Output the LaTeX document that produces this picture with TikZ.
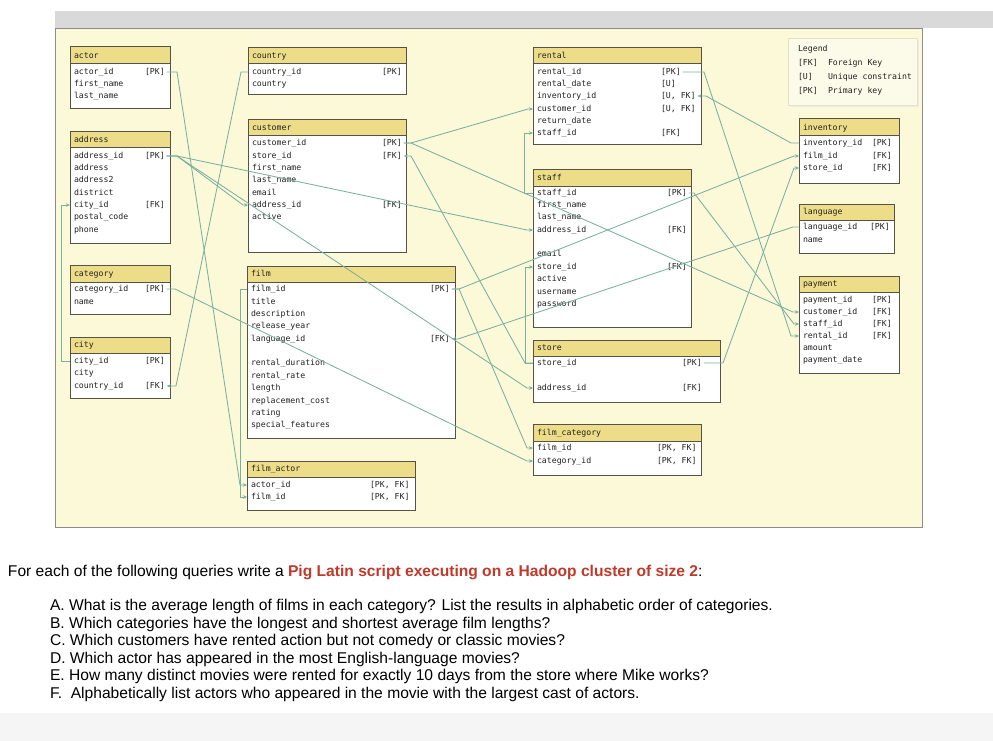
\documentclass[tikz,border=0pt]{standalone}
\usepackage{fontspec}
\setmainfont{Liberation Sans}
\newfontfamily\monof{DejaVu Sans Mono}
\usetikzlibrary{arrows.meta}
\definecolor{panel}{HTML}{FBF9D8}
\definecolor{hdr}{HTML}{EEDD88}
\definecolor{bord}{HTML}{55524A}
\definecolor{connc}{HTML}{7AB0A2}
\definecolor{txt}{HTML}{222222}
\definecolor{pigred}{HTML}{C0392B}
\definecolor{topbar}{HTML}{D9D9D9}
\definecolor{legfill}{HTML}{FCFBEA}
\definecolor{legline}{HTML}{E6E2C4}

\newcommand\tbl[7]{%
  \pgfmathsetmacro\tblW{#3-#2}\pgfmathsetmacro\tblH{#6-#4}\pgfmathsetmacro\tblHH{#5-#4}%
  \node[tblbox, minimum width=\tblW pt, minimum height=\tblH pt, anchor=north west] (#1) at (#2,#4) {};
  \node[tblhead, minimum width=\tblW pt, minimum height=\tblHH pt, anchor=north west] (#1-h) at (#2,#4) {};
  \node[ftxt, anchor=west] (#1-t) at ({#2+4},{(#4+#5)/2+0.5}) {#7};
  \def\tL{#2}\def\tR{#3}%
}
\newcommand\fld[3]{%
  \node[ftxt, anchor=west] (#1) at ({\tL+4},#2) {#3};
  \coordinate (#1L) at (\tL,#2);
  \coordinate (#1R) at (\tR,#2);
}
\newcommand\fldk[5]{%
  \fld{#1}{#2}{#3}
  \node[ftxt, anchor=west] (#1K) at (#5,#2) {#4};
}

\begin{document}
\begin{tikzpicture}[x=1pt,y=-1pt,
  tblbox/.style={draw=bord, fill=white, line width=1pt, inner sep=0pt, outer sep=0pt, rectangle},
  tblhead/.style={draw=bord, fill=hdr, line width=1pt, inner sep=0pt, outer sep=0pt, rectangle},
  ftxt/.style={font=\monof\fontsize{8.2}{9}\selectfont, text=txt, inner sep=0pt, outer sep=0pt, text height=6pt, text depth=1.5pt},
  conn/.style={draw=connc, line width=0.85pt},
  fk/.style={-{Stealth[length=4pt,width=3.5pt]}},
  qt/.style={font=\fontsize{15.6}{17.6}\selectfont, text=black, inner sep=0pt, outer sep=0pt}]
\useasboundingbox (0,0) rectangle (993,741);
\fill[white] (0,0) rectangle (993,741);
\fill[topbar] (55,11) rectangle (993,28);
\fill[black!4] (0,713) rectangle (993,741);
\filldraw[fill=panel, draw=black!45, line width=0.8pt] (55,28) rectangle (922,527);

% legend
\fill[black!8] (790,40) rectangle (919,107);
\node[draw=legline, fill=legfill, line width=0.6pt, minimum width=129pt, minimum height=67pt, inner sep=0pt, anchor=north west] (legend) at (788,38) {};
\node[ftxt, anchor=west] (lg0) at (798,49) {Legend};
\node[ftxt, anchor=west] (lg1a) at (798,63) {[FK]};
\node[ftxt, anchor=west] (lg1b) at (828,63) {Foreign Key};
\node[ftxt, anchor=west] (lg2a) at (798,77) {[U]};
\node[ftxt, anchor=west] (lg2b) at (828,77) {Unique constraint};
\node[ftxt, anchor=west] (lg3a) at (798,91) {[PK]};
\node[ftxt, anchor=west] (lg3b) at (828,91) {Primary key};

% tables
\tbl{actor}{70}{170}{47}{64}{109}{actor}
\fldk{aActorId}{72}{actor\_id}{[PK]}{145}
\fld{aFirst}{84}{first\_name}
\fld{aLast}{96}{last\_name}

\tbl{address}{70}{170}{132}{148}{243}{address}
\fldk{adId}{156}{address\_id}{[PK]}{145}
\fld{adAddr}{168}{address}
\fld{adAddr2}{180}{address2}
\fld{adDistrict}{193}{district}
\fldk{adCity}{205}{city\_id}{[FK]}{145}
\fld{adPostal}{217}{postal\_code}
\fld{adPhone}{230}{phone}

\tbl{category}{70}{170}{265}{282}{314}{category}
\fldk{catId}{289}{category\_id}{[PK]}{145}
\fld{catName}{302}{name}

\tbl{city}{70}{170}{337}{353}{398}{city}
\fldk{ciId}{361}{city\_id}{[PK]}{145}
\fld{ciCity}{373}{city}
\fldk{ciCountry}{386}{country\_id}{[FK]}{145}

\tbl{country}{248}{406}{48}{64}{95}{country}
\fldk{coId}{72}{country\_id}{[PK]}{382}
\fld{coCountry}{84}{country}

\tbl{customer}{248}{406}{120}{136}{252}{customer}
\fldk{cuId}{143}{customer\_id}{[PK]}{382}
\fldk{cuStore}{156}{store\_id}{[FK]}{382}
\fld{cuFirst}{168}{first\_name}
\fld{cuLast}{180}{last\_name}
\fld{cuEmail}{193}{email}
\fldk{cuAddr}{205}{address\_id}{[FK]}{382}
\fld{cuActive}{217}{active}

\tbl{film}{247}{455}{266}{282}{438}{film}
\fldk{fiId}{289}{film\_id}{[PK]}{430}
\fld{fiTitle}{302}{title}
\fld{fiDesc}{314}{description}
\fld{fiYear}{326}{release\_year}
\fldk{fiLang}{339}{language\_id}{[FK]}{430}
\fld{fiDur}{363}{rental\_duration}
\fld{fiRate}{376}{rental\_rate}
\fld{fiLen}{388}{length}
\fld{fiCost}{401}{replacement\_cost}
\fld{fiRating}{413}{rating}
\fld{fiSpecial}{425}{special\_features}

\tbl{filmactor}{247}{415}{461}{477}{510}{film\_actor}
\fldk{faActor}{485}{actor\_id}{[PK, FK]}{370}
\fldk{faFilm}{497}{film\_id}{[PK, FK]}{370}

\tbl{rental}{533}{701}{48}{64}{145}{rental}
\fldk{reId}{72}{rental\_id}{[PK]}{661}
\fldk{reDate}{84}{rental\_date}{[U]}{661}
\fldk{reInv}{96}{inventory\_id}{[U, FK]}{661}
\fldk{reCust}{109}{customer\_id}{[U, FK]}{661}
\fld{reReturn}{121}{return\_date}
\fldk{reStaff}{133}{staff\_id}{[FK]}{661}

\tbl{staff}{533}{691}{169}{186}{327}{staff}
\fldk{stId}{193}{staff\_id}{[PK]}{667}
\fld{stFirst}{205}{first\_name}
\fld{stLast}{217}{last\_name}
\fldk{stAddr}{230}{address\_id}{[FK]}{667}
\fld{stEmail}{254}{email}
\fldk{stStore}{267}{store\_id}{[FK]}{667}
\fld{stActive}{279}{active}
\fld{stUser}{292}{username}
\fld{stPass}{304}{password}

\tbl{store}{533}{720}{340}{356}{402}{store}
\fldk{soId}{363}{store\_id}{[PK]}{682}
\fldk{soAddr}{388}{address\_id}{[FK]}{682}

\tbl{filmcat}{533}{701}{424}{441}{475}{film\_category}
\fldk{fcFilm}{448}{film\_id}{[PK, FK]}{657}
\fldk{fcCat}{461}{category\_id}{[PK, FK]}{657}

\tbl{inventory}{799}{899}{119}{136}{183}{inventory}
\fldk{inId}{143}{inventory\_id}{[PK]}{872}
\fldk{inFilm}{156}{film\_id}{[FK]}{872}
\fldk{inStore}{168}{store\_id}{[FK]}{872}

\tbl{language}{799}{894}{204}{220}{253}{language}
\fldk{laId}{227}{language\_id}{[PK]}{870}
\fld{laName}{240}{name}

\tbl{payment}{799}{899}{276}{292}{373}{payment}
\fldk{paId}{300}{payment\_id}{[PK]}{872}
\fldk{paCust}{312}{customer\_id}{[FK]}{872}
\fldk{paStaff}{324}{staff\_id}{[FK]}{872}
\fldk{paRental}{336}{rental\_id}{[FK]}{872}
\fld{paAmount}{348}{amount}
\fld{paDate}{360}{payment\_date}

% connectors
\draw[conn,fk] ([xshift=2]aActorIdK.east) -- ([xshift=7]aActorIdR) -- ([xshift=-7]faActorL) -- (faActorL);
\draw[conn,fk] (fiIdL) -- ([xshift=-7]fiIdL) -- ([xshift=-7]faFilmL) -- (faFilmL);
\draw[conn,fk] ([xshift=2]fiIdK.east) -- ([xshift=4]fiIdR) -- ([xshift=-5]inFilmL) -- (inFilmL);
\draw[conn,fk] ([xshift=2]fiIdK.east) -- ([xshift=4]fiIdR) -- ([xshift=-6]fcFilmL) -- (fcFilmL);
\draw[conn,fk] ([xshift=2]catIdK.east) -- ([xshift=5]catIdR) -- ([xshift=-6]fcCatL) -- (fcCatL);
\draw[conn,fk] (coIdL) -- ([xshift=-7]coIdL) -- ([xshift=6]ciCountryR) -- ([xshift=2]ciCountryK.east);
\draw[conn,fk] (ciIdL) -- ([xshift=-9]ciIdL) -- ([xshift=-9]adCityL) -- (adCityL);
\draw[conn,fk] ([xshift=2]adIdK.east) -- ([xshift=7]adIdR) -- ([xshift=-5]cuAddrL) -- (cuAddrL);
\draw[conn,fk] ([xshift=2]adIdK.east) -- ([xshift=7]adIdR) -- ([xshift=-6]stAddrL) -- (stAddrL);
\draw[conn,fk] ([xshift=2]adIdK.east) -- ([xshift=7]adIdR) -- ([xshift=-6]soAddrL) -- (soAddrL);
\draw[conn,fk] (laIdL) -- ([xshift=-6]laIdL) -- ([xshift=3]fiLangR) -- ([xshift=2]fiLangK.east);
\draw[conn,fk] ([xshift=2]cuIdK.east) -- ([xshift=5]cuIdR) -- ([xshift=-5]reCustL) -- (reCustL);
\draw[conn,fk] ([xshift=2]cuIdK.east) -- ([xshift=5]cuIdR) -- ([xshift=-6]paCustL) -- (paCustL);
\draw[conn,fk] (soIdL) -- ([xshift=-8]soIdL) -- ([xshift=5]cuStoreR) -- ([xshift=2]cuStoreK.east);
\draw[conn,fk] (soIdL) -- ([xshift=-8]soIdL) -- ([xshift=-8]stStoreL) -- (stStoreL);
\draw[conn,fk] ([xshift=2]soIdK.east) -- ([xshift=3]soIdR) -- ([xshift=-5]inStoreL) -- (inStoreL);
\draw[conn,fk] (stIdL) -- ([xshift=-9]stIdL) -- ([xshift=-9]reStaffL) -- (reStaffL);
\draw[conn,fk] ([xshift=2]stIdK.east) -- ([xshift=3]stIdR) -- ([xshift=-5]paStaffL) -- (paStaffL);
\draw[conn,fk] ([xshift=2]reIdK.east) -- ([xshift=3]reIdR) -- ([xshift=-8]paRentalL) -- (paRentalL);
\draw[conn,fk] (inIdL) -- ([xshift=-8]inIdL) -- ([xshift=5]reInvR) -- ([xshift=2]reInvK.east);

% questions
\node[qt, anchor=base west] (q0) at (8,576) {For each of the following queries write a \textcolor{pigred}{\bfseries Pig Latin script executing on a Hadoop cluster of size 2}:};
\node[qt, anchor=base west] (qa) at (50,610.5) {A. What is the average length of films in each category? List the results in alphabetic order of categories.};
\node[qt, anchor=base west] (qb) at (50,628) {B. Which categories have the longest and shortest average film lengths?};
\node[qt, anchor=base west] (qc) at (50,645.5) {C. Which customers have rented action but not comedy or classic movies?};
\node[qt, anchor=base west] (qd) at (50,663) {D. Which actor has appeared in the most English-language movies?};
\node[qt, anchor=base west] (qe) at (50,680.5) {E. How many distinct movies were rented for exactly 10 days from the store where Mike works?};
\node[qt, anchor=base west] (qf) at (50,698) {F.\ \ Alphabetically list actors who appeared in the movie with the largest cast of actors.};
\end{tikzpicture}
\end{document}
